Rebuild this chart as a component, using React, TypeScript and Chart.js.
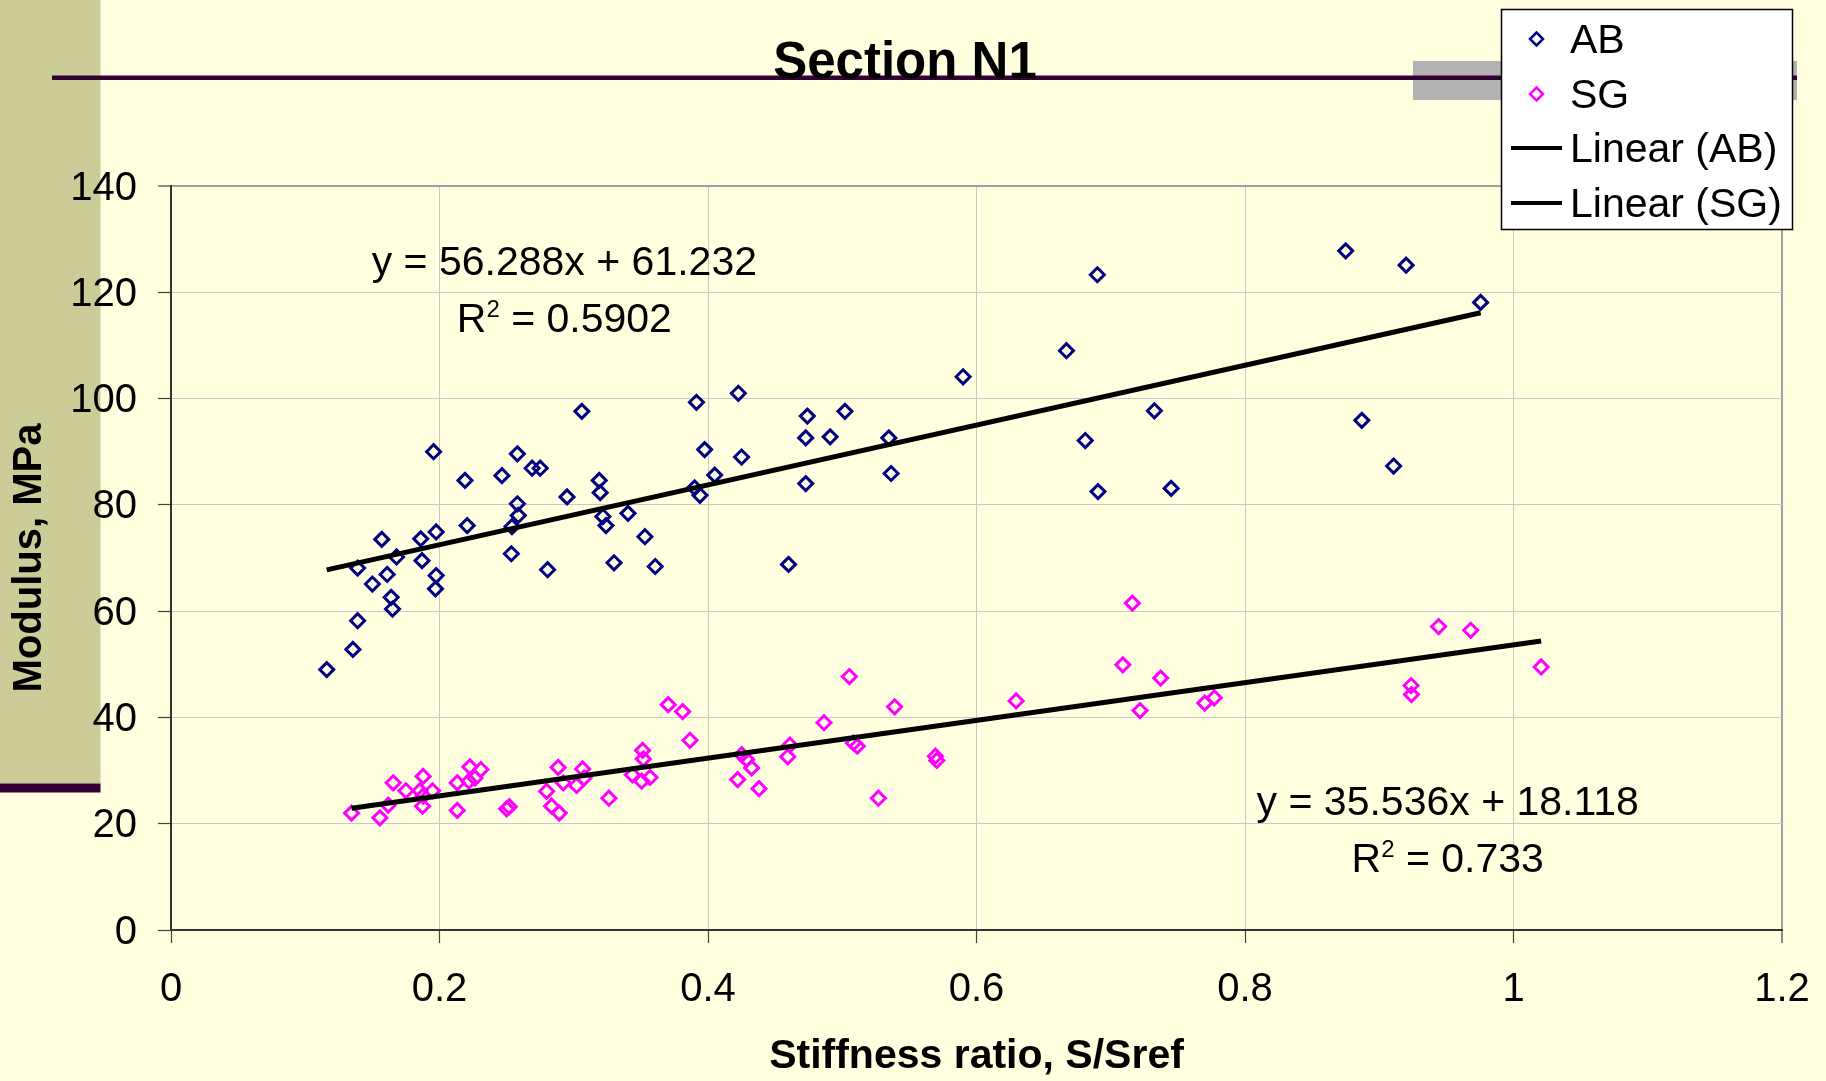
import React, { useEffect, useRef } from 'react';
import { Chart, registerables } from 'chart.js';

Chart.register(...registerables);

// ---------- data ----------
const AB_X = [
  0.116, 0.1355, 0.139, 0.139, 0.15, 0.157, 0.161, 0.164, 0.165, 0.168,
  0.186, 0.187, 0.1956, 0.1975, 0.1975, 0.197, 0.219, 0.2206, 0.2465, 0.2535,
  0.254, 0.258, 0.258, 0.2587, 0.269, 0.275, 0.2805, 0.295, 0.306, 0.319,
  0.3197, 0.3217, 0.324, 0.33, 0.3404, 0.353, 0.3607, 0.3914, 0.39, 0.394,
  0.3975, 0.405, 0.4226, 0.425, 0.46, 0.474, 0.4728, 0.4728, 0.491, 0.502,
  0.5347, 0.5364, 0.59, 0.667, 0.681, 0.69, 0.6905, 0.7325, 0.745, 0.875,
  0.887, 0.9107, 0.92, 0.9755,
];
const AB_Y = [
  49.0, 52.8, 58.2, 68.1, 65.1, 73.5, 66.9, 62.6, 60.4, 70.2,
  73.6, 69.5, 90.0, 74.9, 66.7, 64.2, 84.6, 76.1, 85.5, 70.8,
  75.9, 89.6, 80.2, 78.0, 86.9, 86.9, 67.8, 81.5, 97.6, 84.6,
  82.3, 77.8, 76.1, 69.1, 78.4, 74.0, 68.4, 99.3, 83.2, 81.8,
  90.4, 85.6, 101.0, 89.0, 68.8, 96.7, 92.6, 84.0, 92.8, 97.6,
  92.6, 85.9, 104.1, 109.0, 92.1, 123.3, 82.5, 97.7, 83.1, 127.8,
  95.9, 87.3, 125.1, 118.1,
];
const SG_X = [
  0.1345, 0.1556, 0.1618, 0.1655, 0.175, 0.1854, 0.1878, 0.1874, 0.1878, 0.1948,
  0.2132, 0.2132, 0.2226, 0.2219, 0.2264, 0.2308, 0.25, 0.252, 0.2798, 0.2835,
  0.2892, 0.2884, 0.2922, 0.3021, 0.3066, 0.3076, 0.3262, 0.3436, 0.3506, 0.3568,
  0.3513, 0.3518, 0.3704, 0.3811, 0.3866, 0.4221, 0.4251, 0.4288, 0.4325, 0.438,
  0.461, 0.4594, 0.4864, 0.5053, 0.5083, 0.5112, 0.5269, 0.539, 0.5694, 0.5704,
  0.6295, 0.7161, 0.709, 0.7372, 0.7218, 0.77, 0.7771, 0.9442, 0.9681, 0.9237,
  0.924, 1.0206,
];
const SG_Y = [
  22.0, 21.1, 23.5, 27.7, 26.2, 26.2, 28.9, 23.3, 25.2, 26.2,
  27.7, 22.5, 30.7, 28.0, 28.6, 30.2, 22.8, 23.2, 26.1, 23.3,
  22.0, 30.6, 27.7, 27.2, 30.3, 28.6, 24.8, 29.2, 28.0, 28.7,
  33.8, 32.2, 42.4, 41.1, 35.7, 28.3, 33.0, 32.1, 30.5, 26.6,
  34.8, 32.6, 39.0, 47.7, 35.2, 34.6, 24.8, 42.0, 32.7, 31.9,
  43.1, 61.5, 49.9, 47.4, 41.3, 42.7, 43.7, 57.1, 56.4, 46.0,
  44.3, 49.5,
];

// trendline equations as printed on the chart
const AB_SLOPE = 56.288;
const AB_INTERCEPT = 61.232;
const AB_R2 = '0.5902';
const SG_SLOPE = 35.536;
const SG_INTERCEPT = 18.118;
const SG_R2 = '0.733';

const X_TICKS = [0, 0.2, 0.4, 0.6, 0.8, 1, 1.2];
const X_TICK_LABELS = ['0', '0.2', '0.4', '0.6', '0.8', '1', '1.2'];
const Y_TICKS = [0, 20, 40, 60, 80, 100, 120, 140];
const Y_TICK_LABELS = ['0', '20', '40', '60', '80', '100', '120', '140'];

const SERIES_NAMES = ['AB', 'SG', 'Linear (AB)', 'Linear (SG)'];
const TITLE = 'Section N1';
const X_TITLE = 'Stiffness ratio, S/Sref';
const Y_TITLE = 'Modulus, MPa';

// annotation anchors (data coordinates)
const AB_LABEL_POS = { x: 0.293, y1: 123.3, y2: 112.6 };
const SG_LABEL_POS = { x: 0.951, y1: 21.6, y2: 11.0 };

// ---------- styles ----------
const FONT = '"Liberation Sans", Arial, sans-serif';
const BG = '#FFFFE0';
const AB_COLOR = '#000080';
const SG_COLOR = '#FF00FF';
const PURPLE = '#330033';

const pts = (xs: number[], ys: number[]) => xs.map((x, i) => ({ x, y: ys[i] }));
const trend = (xs: number[], slope: number, intercept: number) => {
  const lo = Math.min(...xs);
  const hi = Math.max(...xs);
  return [
    { x: lo, y: slope * lo + intercept },
    { x: hi, y: slope * hi + intercept },
  ];
};

function drawDiamond(ctx: CanvasRenderingContext2D, x: number, y: number, r: number, color: string) {
  ctx.beginPath();
  ctx.moveTo(x, y - r);
  ctx.lineTo(x + r, y);
  ctx.lineTo(x, y + r);
  ctx.lineTo(x - r, y);
  ctx.closePath();
  ctx.strokeStyle = color;
  ctx.lineWidth = 2.5;
  ctx.stroke();
}

function drawEquation(chart: any, eq: string, r2: string, pos: { x: number; y1: number; y2: number }) {
  const ctx: CanvasRenderingContext2D = chart.ctx;
  const xs = chart.scales.x;
  const ys = chart.scales.y;
  const cx = xs.getPixelForValue(pos.x);
  const y1 = ys.getPixelForValue(pos.y1);
  const y2 = ys.getPixelForValue(pos.y2);
  const big = `41px ${FONT}`;
  const small = `24px ${FONT}`;
  ctx.save();
  ctx.fillStyle = '#000';
  ctx.textBaseline = 'alphabetic';
  ctx.font = big;
  ctx.textAlign = 'center';
  ctx.fillText(eq, cx, y1);
  ctx.textAlign = 'left';
  const rest = ' = ' + r2;
  const wR = ctx.measureText('R').width;
  const wRest = ctx.measureText(rest).width;
  ctx.font = small;
  const w2 = ctx.measureText('2').width;
  let x = cx - (wR + w2 + wRest) / 2;
  ctx.font = big;
  ctx.fillText('R', x, y2);
  x += wR;
  ctx.font = small;
  ctx.fillText('2', x, y2 - 15);
  x += w2;
  ctx.font = big;
  ctx.fillText(rest, x, y2);
  ctx.restore();
}

const decorPlugin = {
  id: 'decor',
  beforeDraw(chart: any) {
    const ctx: CanvasRenderingContext2D = chart.ctx;
    ctx.save();
    ctx.fillStyle = BG;
    ctx.fillRect(0, 0, chart.width, chart.height);
    ctx.fillStyle = '#CCCC99';
    ctx.fillRect(0, 0, 100.5, 783.5);
    ctx.fillStyle = PURPLE;
    ctx.fillRect(0, 783.5, 100.5, 9);
    ctx.fillStyle = '#B2B2B2';
    ctx.fillRect(1413, 61, 384, 39);
    ctx.fillStyle = PURPLE;
    ctx.fillRect(52, 75.5, 1745, 4.5);
    ctx.fillStyle = '#000';
    ctx.font = `bold 51px ${FONT}`;
    ctx.textAlign = 'center';
    ctx.textBaseline = 'alphabetic';
    ctx.fillText(TITLE, 905, 78);
    ctx.restore();
  },
  afterDatasetsDraw(chart: any) {
    drawEquation(chart, `y = ${AB_SLOPE}x + ${AB_INTERCEPT}`, AB_R2, AB_LABEL_POS);
    drawEquation(chart, `y = ${SG_SLOPE}x + ${SG_INTERCEPT}`, SG_R2, SG_LABEL_POS);
  },
  afterDraw(chart: any) {
    const ctx: CanvasRenderingContext2D = chart.ctx;
    ctx.save();
    // legend box
    ctx.fillStyle = '#FFFFFF';
    ctx.fillRect(1501.5, 9.5, 291, 220);
    ctx.strokeStyle = '#000';
    ctx.lineWidth = 1.5;
    ctx.strokeRect(1501.5, 9.5, 291, 220);
    const rows = [39, 94, 148, 203];
    ctx.font = `41px ${FONT}`;
    ctx.textAlign = 'left';
    ctx.textBaseline = 'middle';
    SERIES_NAMES.forEach((name, i) => {
      const y = rows[i];
      if (i === 0) drawDiamond(ctx, 1536.5, y, 6.5, AB_COLOR);
      else if (i === 1) drawDiamond(ctx, 1536.5, y, 6.5, SG_COLOR);
      else {
        ctx.fillStyle = '#000';
        ctx.fillRect(1511, y - 2, 51, 4);
      }
      ctx.fillStyle = '#000';
      ctx.fillText(name, 1570, y + 3);
    });
    ctx.restore();
  },
};

const gridColor = (edge: number) => (c: any) =>
  c.tick && Math.abs(c.tick.value - edge) < 1e-9 ? '#A0A0A0' : '#C8C8C8';
const gridWidth = (edge: number) => (c: any) =>
  c.tick && Math.abs(c.tick.value - edge) < 1e-9 ? 2 : 1;

export default function App() {
  const ref = useRef<HTMLCanvasElement>(null);

  useEffect(() => {
    if (!ref.current) return;
    const chart = new Chart(ref.current, {
      type: 'scatter',
      data: {
        datasets: [
          {
            label: SERIES_NAMES[2],
            data: trend(AB_X, AB_SLOPE, AB_INTERCEPT),
            showLine: true,
            borderColor: '#000',
            borderWidth: 5,
            pointRadius: 0,
            order: 0,
          },
          {
            label: SERIES_NAMES[3],
            data: trend(SG_X, SG_SLOPE, SG_INTERCEPT),
            showLine: true,
            borderColor: '#000',
            borderWidth: 5,
            pointRadius: 0,
            order: 0,
          },
          {
            label: SERIES_NAMES[0],
            data: pts(AB_X, AB_Y),
            pointStyle: 'rectRot',
            pointRadius: 7,
            pointBorderWidth: 3,
            pointBorderColor: AB_COLOR,
            pointBackgroundColor: 'rgba(0,0,0,0)',
            order: 1,
          },
          {
            label: SERIES_NAMES[1],
            data: pts(SG_X, SG_Y),
            pointStyle: 'rectRot',
            pointRadius: 7,
            pointBorderWidth: 3,
            pointBorderColor: SG_COLOR,
            pointBackgroundColor: 'rgba(0,0,0,0)',
            order: 1,
          },
        ],
      },
      options: {
        animation: false,
        responsive: false,
        devicePixelRatio: 1,
        layout: { padding: { left: 0, top: 186, right: 44, bottom: 0 } },
        plugins: {
          legend: { display: false },
          title: { display: false },
          tooltip: { enabled: false },
        },
        scales: {
          x: {
            type: 'linear',
            position: 'bottom',
            min: 0,
            max: 1.2,
            afterBuildTicks: (s: any) => {
              s.ticks = X_TICKS.map((v) => ({ value: v }));
            },
            afterFit: (s: any) => {
              s.height = 151;
              s.paddingLeft = 0;
              s.paddingRight = 0;
            },
            ticks: {
              callback: (_v: any, i: number) => X_TICK_LABELS[i],
              font: { family: FONT, size: 40 },
              color: '#000',
              padding: 23,
              maxRotation: 0,
              autoSkip: false,
            },
            grid: {
              color: gridColor(1.2),
              lineWidth: gridWidth(1.2),
              tickColor: '#404040',
              tickLength: 13,
              tickWidth: 1.2,
            },
            border: { display: true, color: '#333333', width: 2 },
            title: {
              display: true,
              text: X_TITLE,
              font: { family: FONT, size: 41, weight: 'bold' },
              color: '#000',
              padding: { top: 0, bottom: 0 },
            },
          },
          y: {
            type: 'linear',
            position: 'left',
            min: 0,
            max: 140,
            afterBuildTicks: (s: any) => {
              s.ticks = Y_TICKS.map((v) => ({ value: v }));
            },
            afterFit: (s: any) => {
              s.width = 171;
              s.paddingTop = 0;
              s.paddingBottom = 0;
            },
            ticks: {
              callback: (_v: any, i: number) => Y_TICK_LABELS[i],
              font: { family: FONT, size: 40 },
              color: '#000',
              padding: 21,
              labelOffset: 2.5,
              autoSkip: false,
            },
            grid: {
              color: gridColor(140),
              lineWidth: gridWidth(140),
              tickColor: '#404040',
              tickLength: 13,
              tickWidth: 1.2,
            },
            border: { display: true, color: '#333333', width: 2 },
            title: {
              display: true,
              text: Y_TITLE,
              font: { family: FONT, size: 40, weight: 'bold' },
              color: '#000',
              padding: { top: 5.5, bottom: 0 },
            },
          },
        },
      } as any,
      plugins: [decorPlugin],
    });
    return () => chart.destroy();
  }, []);

  return (
    <div style={{ position: 'fixed', left: 0, top: 0, width: 1826, height: 1081, background: BG }}>
      <canvas ref={ref} width={1826} height={1081} style={{ display: 'block', width: 1826, height: 1081 }} />
    </div>
  );
}
